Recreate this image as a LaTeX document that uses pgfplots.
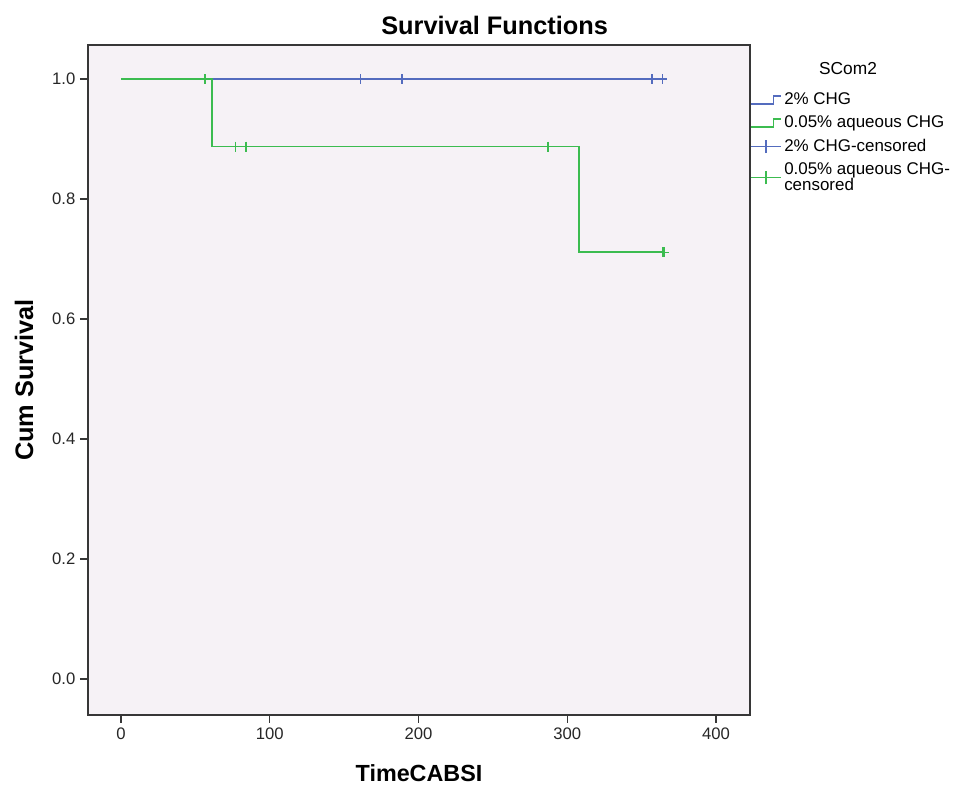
\documentclass[border=0pt]{standalone}
\usepackage{fontspec}
\setmainfont{Liberation Sans}
\usepackage{pgfplots}
\pgfplotsset{compat=1.18}
\definecolor{bgc}{RGB}{246,242,246}
\definecolor{cblue}{RGB}{84,108,190}
\definecolor{cgreen}{RGB}{60,188,80}
\definecolor{framec}{RGB}{55,55,55}
\begin{document}
\begin{tikzpicture}
\useasboundingbox (-66pt,-54.75pt) rectangle (657pt,536.25pt);
\begin{axis}[
  at={(0pt,0pt)}, anchor=south west,
  scale only axis, width=496.5pt, height=502.5pt,
  xmin=-22.2, xmax=422.9, ymin=-0.06, ymax=1.0567,
  axis background/.style={fill=bgc},
  axis line style={framec, line width=1.1pt},
  xtick={0,100,200,300,400}, ytick={0,0.2,0.4,0.6,0.8,1.0},
  yticklabel style={/pgf/number format/.cd, fixed, fixed zerofill, precision=1},
  tick align=outside, major tick length=6pt, tick style={framec, line width=1pt},
  xtick pos=bottom, ytick pos=left,
  ticklabel style={font=\fontsize{12.5}{14}\selectfont, text=black!85},
  /pgf/number format/assume math mode=true,
  xlabel={TimeCABSI}, ylabel={Cum Survival},
  x label style={font=\bfseries\fontsize{17.5}{20}\selectfont, at={(axis description cs:0.5,0)}, anchor=center, yshift=-43.5pt},
  y label style={font=\bfseries\fontsize{19}{20}\selectfont, at={(axis description cs:0,0.5)}, anchor=center, yshift=48pt},
  legend style={at={(axis description cs:1,0.9328)}, anchor=north west, draw=none, fill=none,
    font=\fontsize{12.7}{12}\selectfont, inner sep=0pt, row sep=3pt,
    cells={anchor=west, align=left}},
  legend cell align=left,
]
\addplot[const plot, draw=cblue, line width=1.3pt,
  legend image code/.code={\draw[cblue, line width=1pt] (0pt,-3pt) -- (17pt,-3pt) -- (17pt,3pt) -- (22.5pt,3pt);}]
  coordinates {(0,1) (364,1)};
\addlegendentry{2\% CHG}
\addplot[const plot, draw=cgreen, line width=1.3pt,
  legend image code/.code={\draw[cgreen, line width=1pt] (0pt,-3pt) -- (17pt,-3pt) -- (17pt,3pt) -- (22.5pt,3pt);}]
  coordinates {(0,1) (61,0.8875) (308,0.7111) (364,0.7111)};
\addlegendentry{0.05\% aqueous CHG}
\addplot[only marks, mark=+, mark size=3.75pt, draw=cblue, mark options={draw=cblue, line width=1.2pt},
  legend image code/.code={\draw[cblue, line width=1pt] (0pt,0pt) -- (22.5pt,0pt); \draw[cblue, line width=1pt] (11.25pt,-5pt) -- (11.25pt,5pt);}]
  coordinates {(161,1) (189,1) (357,1) (364,1)};
\addlegendentry{2\% CHG-censored}
\addplot[only marks, mark=+, mark size=3.75pt, draw=cgreen, mark options={draw=cgreen, line width=1.2pt},
  legend image code/.code={\draw[cgreen, line width=1pt] (0pt,0pt) -- (22.5pt,0pt); \draw[cgreen, line width=1pt] (11.25pt,-5pt) -- (11.25pt,5pt);}]
  coordinates {(56.5,1) (77,0.8875) (84,0.8875) (287,0.8875) (364,0.7111) (365,0.7111)};
\addlegendentry{0.05\% aqueous CHG-\\censored}
\end{axis}
\node[font=\bfseries\fontsize{19}{22}\selectfont] at (305pt,517.5pt) {Survival Functions};
\node[font=\fontsize{13}{15}\selectfont] at (570pt,485pt) {SCom2};
\end{tikzpicture}
\end{document}
